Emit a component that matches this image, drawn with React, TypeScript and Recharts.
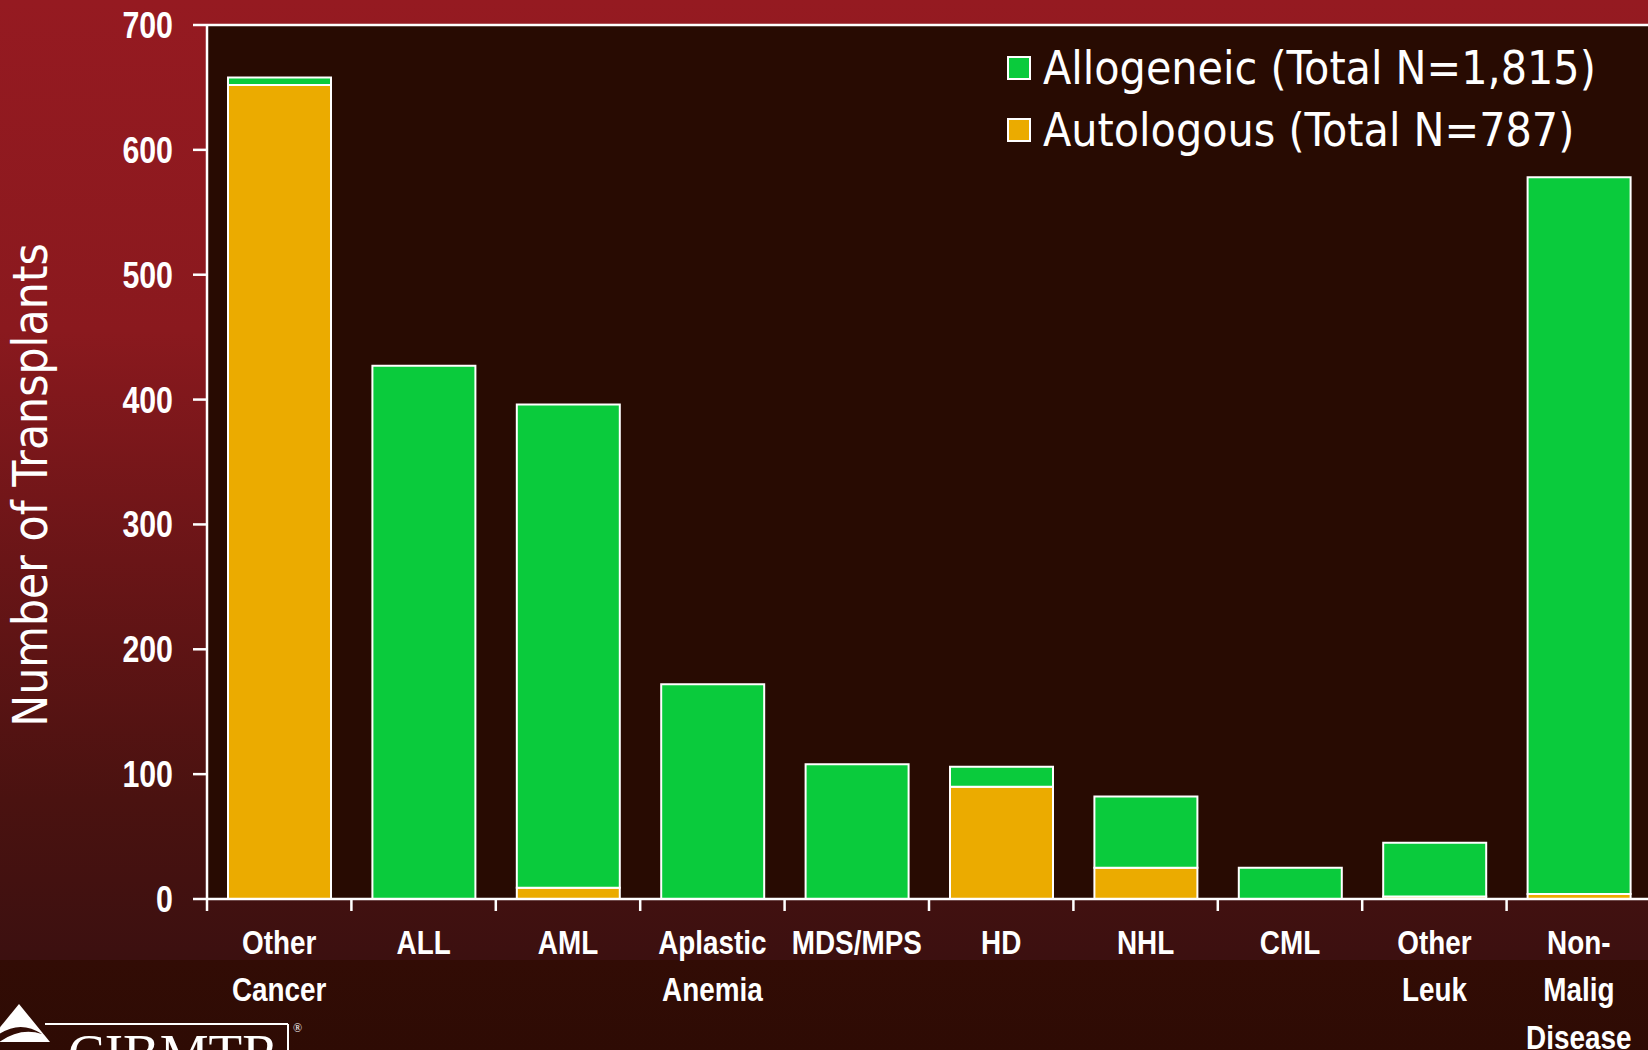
import { BarChart, Bar, XAxis, YAxis, CartesianGrid, Legend, ReferenceLine } from "recharts";

const CATEGORIES = [
  "Other\nCancer",
  "ALL",
  "AML",
  "Aplastic\nAnemia",
  "MDS/MPS",
  "HD",
  "NHL",
  "CML",
  "Other\nLeuk",
  "Non-\nMalig\nDisease",
];
const ALLOGENEIC = [6, 427, 387, 172, 108, 16, 57, 25, 43, 574];
const AUTOLOGOUS = [652, 0, 9, 0, 0, 90, 25, 0, 2, 4];
const Y_TICKS = [0, 100, 200, 300, 400, 500, 600, 700];

const SERIES = [
  { key: "allo", name: "Allogeneic (Total N=1,815)", color: "#0acb3c" },
  { key: "auto", name: "Autologous (Total N=787)", color: "#ebab00" },
];

const data = CATEGORIES.map((category, i) => ({
  category,
  allo: ALLOGENEIC[i],
  auto: AUTOLOGOUS[i],
}));

const W = 1651;
const H = 1050;
const Y_AXIS_W = 207;
const X_AXIS_H = 151;
const HALF_BAND = (W - Y_AXIS_W) / CATEGORIES.length / 2;

// no Arial Narrow here, so squeeze Liberation Sans bold instead
const BOLD_FONT = "'Liberation Sans', Arial, sans-serif";
const SQUEEZE = 0.82;
const LABEL_FONT = "'DejaVu Sans Condensed', 'DejaVu Sans', Verdana, sans-serif";

const XTick = ({ x, y, payload }: any) => {
  const lines = String(payload.value).split("\n");
  return (
    <g>
      <line x1={x - HALF_BAND} x2={x - HALF_BAND} y1={y} y2={y + 12} stroke="#fff" strokeWidth={2.5} />
      <g transform={`translate(${x} ${y}) scale(${SQUEEZE} 1)`}>
        <text x={0} y={0} textAnchor="middle" fill="#fff" fontSize={34} fontWeight={700} fontFamily={BOLD_FONT}>
          {lines.map((l, i) => (
            <tspan key={i} x={0} dy={i === 0 ? 55 : 47.5}>
              {l}
            </tspan>
          ))}
        </text>
      </g>
    </g>
  );
};

const YTick = ({ x, y, payload }: any) => (
  <g transform={`translate(${x} ${y}) scale(${SQUEEZE} 1)`}>
    <text x={0} y={0} dy={13} textAnchor="end" fill="#fff" fontSize={37} fontWeight={700} fontFamily={BOLD_FONT}>
      {payload.value}
    </text>
  </g>
);

const YLabel = () => (
  <text
    x={47}
    y={485}
    transform="rotate(-90 47 485)"
    textAnchor="middle"
    fill="#fff"
    fontSize={47.5}
    fontFamily={LABEL_FONT}
  >
    Number of Transplants
  </text>
);

const LegendBox = () => (
  <div style={{ fontFamily: LABEL_FONT, color: "#fff" }}>
    {SERIES.map((s) => (
      <div key={s.key} style={{ display: "flex", alignItems: "center", height: 62 }}>
        <div
          style={{
            width: 20,
            height: 20,
            border: "2px solid #fff",
            background: s.color,
            marginRight: 12,
          }}
        />
        <span style={{ fontSize: 46, lineHeight: "62px", whiteSpace: "nowrap" }}>{s.name}</span>
      </div>
    ))}
  </div>
);

export default function App() {
  return (
    <div
      style={{
        position: "absolute",
        left: 0,
        top: 0,
        width: 1648,
        height: 1050,
        overflow: "hidden",
        background:
          "linear-gradient(to bottom, #951a21 0px, #8a191e 330px, #6a1517 560px, #4a1210 800px, #3c1010 960px, #320c05 960px, #2e0b04 1050px)",
      }}
    >
      <BarChart
        width={W}
        height={H}
        data={data}
        margin={{ top: 25, right: 0, bottom: 0, left: 0 }}
        barSize={103}
      >
        <CartesianGrid horizontal={false} vertical={false} fill="#280b02" stroke="none" />
        <XAxis
          dataKey="category"
          interval={0}
          height={X_AXIS_H}
          tickSize={0}
          tickMargin={0}
          tickLine={false}
          axisLine={{ stroke: "#fff", strokeWidth: 2.5 }}
          tick={<XTick />}
        />
        <YAxis
          width={Y_AXIS_W}
          domain={[0, 700]}
          ticks={Y_TICKS}
          interval={0}
          tickSize={14}
          tickMargin={20}
          axisLine={{ stroke: "#fff", strokeWidth: 2.5 }}
          tickLine={{ stroke: "#fff", strokeWidth: 2.5 }}
          tick={<YTick />}
          label={<YLabel />}
        />
        <ReferenceLine y={700} stroke="#fff" strokeWidth={2.5} />
        <Bar dataKey="auto" name={SERIES[1].name} stackId="a" fill={SERIES[1].color} stroke="#fff" strokeWidth={2} isAnimationActive={false} />
        <Bar dataKey="allo" name={SERIES[0].name} stackId="a" fill={SERIES[0].color} stroke="#fff" strokeWidth={2} isAnimationActive={false} />
        <Legend
          layout="vertical"
          align="center"
          verticalAlign="middle"
          content={<LegendBox />}
          wrapperStyle={{ position: "absolute", left: 1007, top: 37, width: "auto" }}
        />
      </BarChart>
      <svg width={330} height={60} style={{ position: "absolute", left: 0, top: 990 }}>
        <polygon points="-12,52 19,14 50,52" fill="#fff" />
        <path d="M -6 48 Q 18 28 42 44 Q 18 36 -6 56 Z" fill="#320c05" />
        <line x1={45} y1={34} x2={288} y2={34} stroke="#fff" strokeWidth={2} />
        <line x1={288} y1={34} x2={288} y2={60} stroke="#fff" strokeWidth={2} />
        <text x={68} y={82} fill="#fff" fontSize={55} fontFamily="'Liberation Serif', serif">
          CIBMTR
        </text>
        <text x={293} y={42} fill="#fff" fontSize={12} fontFamily="'Liberation Serif', serif">
          ®
        </text>
      </svg>
    </div>
  );
}
